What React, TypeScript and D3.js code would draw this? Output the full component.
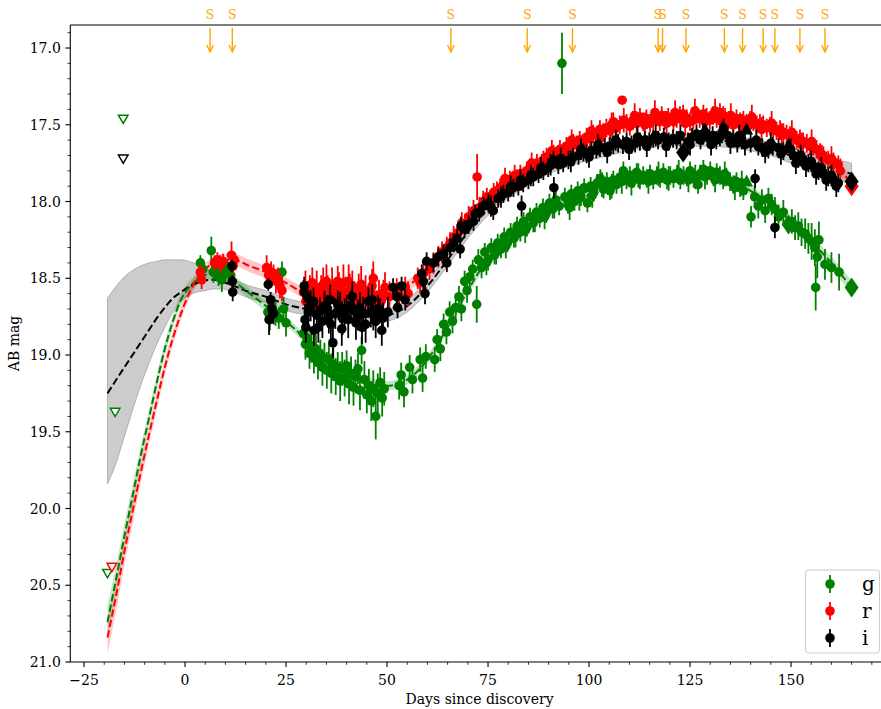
import React from "react";
import * as d3 from "d3";

// ---------- model curves (day, mag, uncertainty) ----------
const modelDays = [-19.2, -17, -15, -13, -11, -9, -7, -5, -3, -1, 1, 3, 5, 7, 9, 12, 16, 20, 25, 30, 35, 40, 45, 50, 55, 60, 65, 70, 75, 80, 85, 90, 95, 100, 105, 110, 115, 120, 125, 130, 135, 140, 145, 150, 155, 160, 165];
const gModelMag = [20.74, 20.45, 20.18, 19.92, 19.66, 19.42, 19.18, 18.96, 18.78, 18.64, 18.56, 18.51, 18.48, 18.47, 18.48, 18.52, 18.6, 18.68, 18.78, 18.9, 19.02, 19.11, 19.17, 19.2, 19.16, 19.03, 18.82, 18.58, 18.37, 18.22, 18.12, 18.04, 17.98, 17.93, 17.89, 17.86, 17.84, 17.83, 17.83, 17.83, 17.86, 17.93, 18.02, 18.13, 18.26, 18.4, 18.56];
const gModelSig = [0.1, 0.09, 0.08, 0.07, 0.06, 0.05, 0.05, 0.045, 0.04, 0.04, 0.04, 0.035, 0.035, 0.035, 0.035, 0.035, 0.035, 0.035, 0.03, 0.03, 0.03, 0.03, 0.03, 0.03, 0.03, 0.03, 0.03, 0.03, 0.03, 0.03, 0.03, 0.03, 0.03, 0.03, 0.03, 0.03, 0.03, 0.03, 0.03, 0.03, 0.03, 0.03, 0.035, 0.035, 0.04, 0.04, 0.045];
const rModelMag = [20.84, 20.56, 20.28, 20.02, 19.77, 19.53, 19.3, 19.08, 18.89, 18.73, 18.6, 18.5, 18.44, 18.4, 18.38, 18.38, 18.42, 18.46, 18.53, 18.6, 18.62, 18.62, 18.62, 18.61, 18.55, 18.45, 18.3, 18.13, 17.98, 17.87, 17.78, 17.7, 17.63, 17.57, 17.52, 17.49, 17.46, 17.45, 17.45, 17.45, 17.47, 17.49, 17.52, 17.57, 17.64, 17.74, 17.88];
const rModelSig = [0.11, 0.1, 0.09, 0.08, 0.07, 0.06, 0.055, 0.05, 0.045, 0.04, 0.04, 0.04, 0.04, 0.04, 0.04, 0.04, 0.04, 0.04, 0.035, 0.035, 0.035, 0.035, 0.035, 0.035, 0.035, 0.035, 0.03, 0.03, 0.03, 0.03, 0.03, 0.03, 0.03, 0.03, 0.03, 0.03, 0.03, 0.03, 0.03, 0.03, 0.03, 0.03, 0.035, 0.035, 0.04, 0.04, 0.045];
const iModelMag = [19.25, 19.16, 19.08, 19.0, 18.92, 18.84, 18.76, 18.69, 18.63, 18.59, 18.555, 18.53, 18.515, 18.51, 18.52, 18.55, 18.59, 18.62, 18.67, 18.7, 18.72, 18.74, 18.75, 18.74, 18.68, 18.55, 18.38, 18.2, 18.05, 17.94, 17.85, 17.78, 17.73, 17.69, 17.66, 17.63, 17.61, 17.6, 17.6, 17.6, 17.61, 17.63, 17.66, 17.7, 17.74, 17.78, 17.82];
const iModelLo = [18.63, 18.55, 18.49, 18.45, 18.42, 18.4, 18.39, 18.38, 18.38, 18.38, 18.39, 18.41, 18.44, 18.46, 18.48, 18.51, 18.55, 18.58, 18.63, 18.66, 18.68, 18.7, 18.71, 18.7, 18.64, 18.51, 18.34, 18.16, 18.01, 17.9, 17.81, 17.74, 17.69, 17.65, 17.62, 17.59, 17.57, 17.56, 17.56, 17.56, 17.57, 17.59, 17.62, 17.65, 17.69, 17.72, 17.75];
const iModelHi = [19.84, 19.7, 19.53, 19.36, 19.2, 19.06, 18.93, 18.82, 18.72, 18.65, 18.61, 18.59, 18.58, 18.57, 18.57, 18.59, 18.63, 18.66, 18.71, 18.74, 18.76, 18.78, 18.79, 18.78, 18.72, 18.59, 18.42, 18.24, 18.09, 17.98, 17.89, 17.82, 17.77, 17.73, 17.7, 17.67, 17.65, 17.64, 17.64, 17.64, 17.65, 17.67, 17.7, 17.75, 17.79, 17.84, 17.89];

// ---------- photometry: [day, mag, err] ----------
const gData: number[][] = [
  [3.8,18.40,0.05],[4.4,18.44,0.06],[6.5,18.32,0.09],[7.0,18.46,0.07],[7.6,18.43,0.05],[8.3,18.49,0.06],[9.1,18.51,0.08],[9.8,18.46,0.06],[10.6,18.44,0.05],[11.3,18.48,0.06],
  [20.5,18.72,0.05],[21.0,18.77,0.07],[21.6,18.70,0.06],[22.4,18.73,0.08],[23.2,18.76,0.07],[24.0,18.46,0.07],[24.4,18.70,0.08],[25.0,18.79,0.09],
  [29.3,18.86,0.08],[29.8,18.93,0.1],[30.3,18.89,0.09],[30.8,18.99,0.1],[31.3,18.94,0.11],[31.9,19.02,0.1],[32.4,18.96,0.09],[32.9,19.05,0.11],[33.5,19.00,0.1],[34.0,19.08,0.12],[34.5,19.02,0.1],[35.1,19.10,0.12],[35.6,19.03,0.1],[36.2,19.12,0.13],[36.7,19.06,0.11],[37.3,19.14,0.12],[37.8,19.08,0.1],[38.4,19.17,0.13],[38.9,19.09,0.11],[39.5,19.15,0.12],[40.0,19.07,0.1],[40.6,19.19,0.13],[41.1,19.12,0.11],[41.7,19.21,0.12],[42.2,19.14,0.11],[42.8,19.09,0.1],[43.3,19.23,0.13],[43.7,18.97,0.09],[44.4,19.16,0.12],[45.0,19.26,0.12],[45.5,19.20,0.11],[46.1,19.30,0.13],[46.6,19.22,0.12],[47.2,19.40,0.15],[47.7,19.25,0.13],[48.3,19.18,0.1],[48.8,19.28,0.12],[49.3,19.22,0.11],
  [53.0,19.20,0.09],[53.5,19.13,0.08],[54.2,19.24,0.1],[55.6,19.08,0.08],[56.3,19.16,0.09],[58.2,19.03,0.08],[58.8,19.15,0.09],[59.6,19.01,0.08],[61.8,19.03,0.08],[62.4,18.90,0.07],[63.2,18.96,0.08],[64.0,18.80,0.07],[64.7,18.85,0.08],[65.5,18.72,0.07],[66.2,18.78,0.08],[67.0,18.69,0.07],[67.8,18.62,0.07],[68.4,18.70,0.08],[69.2,18.52,0.07],[69.8,18.58,0.08],[70.5,18.49,0.07],[71.2,18.44,0.06],[72.2,18.67,0.12],[72.6,18.38,0.07],[73.4,18.43,0.07],[74.2,18.33,0.06],[74.6,18.40,0.08],[75.0,18.38,0.07],[75.8,18.30,0.06],[76.6,18.35,0.06],[77.0,18.33,0.08],[77.4,18.27,0.06],[78.2,18.31,0.06],[79.0,18.23,0.06],[79.4,18.29,0.08],[79.8,18.27,0.06],[80.6,18.20,0.06],[81.4,18.24,0.06],[81.8,18.22,0.08],[82.2,18.16,0.06],[83.0,18.20,0.06],[83.8,18.13,0.06],[84.2,18.19,0.08],[84.6,18.17,0.06],[85.4,18.10,0.06],[86.2,18.14,0.06],[86.6,18.12,0.08],[87.0,18.07,0.06],[87.8,18.11,0.06],[88.6,18.04,0.06],[89.0,18.10,0.08],[89.4,18.08,0.06],[90.2,18.01,0.06],[91.0,18.05,0.06],[91.4,18.03,0.08],[91.8,17.99,0.06],[92.6,18.03,0.06],[93.3,17.10,0.20],[94.0,17.97,0.06],[94.8,18.02,0.06],[95.2,18.04,0.08],[95.6,17.95,0.06],[96.4,18.00,0.06],[97.2,17.93,0.06],[97.6,17.98,0.08],[98.0,17.97,0.06],[98.8,17.91,0.06],[99.6,18.01,0.06],[100.4,17.90,0.06],[100.8,17.96,0.08],[101.2,17.94,0.06],[102.0,17.88,0.06],[102.8,17.85,0.06],[103.2,17.89,0.08],[103.6,17.92,0.06],[104.4,17.87,0.06],[105.2,17.93,0.06],[105.6,17.90,0.08],[106.0,17.86,0.06],[106.8,17.89,0.06],[107.7,17.84,0.06],[108.1,17.87,0.08],[108.5,17.80,0.06],[109.3,17.86,0.06],[110.1,17.83,0.06],[110.5,17.88,0.08],[111.0,17.85,0.06],[111.8,17.81,0.06],[112.2,17.83,0.08],[112.6,17.86,0.06],[113.4,17.83,0.06],[114.3,17.85,0.06],[114.7,17.87,0.08],[115.1,17.82,0.06],[115.9,17.86,0.06],[116.8,17.83,0.06],[117.2,17.82,0.08],[117.6,17.85,0.06],[118.4,17.81,0.06],[119.3,17.86,0.06],[119.7,17.85,0.08],[120.1,17.83,0.06],[120.9,17.85,0.06],[121.8,17.82,0.06],[122.2,17.81,0.08],[122.6,17.86,0.06],[123.4,17.83,0.06],[124.2,17.84,0.06],[124.6,17.86,0.08],[125.0,17.80,0.06],[125.9,17.85,0.06],[126.3,17.84,0.08],[127.0,17.89,0.06],[127.5,17.82,0.06],[128.3,17.79,0.06],[128.7,17.84,0.08],[129.2,17.83,0.06],[130.0,17.80,0.06],[130.8,17.84,0.06],[131.2,17.86,0.08],[131.6,17.81,0.06],[132.4,17.83,0.06],[133.2,17.86,0.06],[133.6,17.82,0.08],[134.0,17.84,0.06],[134.9,17.87,0.06],[135.7,17.89,0.06],[136.1,17.91,0.08],[136.5,17.87,0.06],[137.4,17.91,0.06],[137.8,17.88,0.08],[138.2,17.93,0.06],[140.1,18.10,0.07],[141.0,17.97,0.07],[141.9,18.03,0.08],[142.8,17.99,0.07],[143.6,18.06,0.08],[144.4,17.98,0.07],[145.2,18.02,0.07],[146.0,18.05,0.08],[146.9,18.10,0.08],[148.1,18.07,0.08],[150.2,18.13,0.08],[151.0,18.17,0.08],[151.8,18.16,0.09],[152.6,18.20,0.09],[153.5,18.21,0.1],[154.3,18.24,0.1],[155.1,18.26,0.12],[155.9,18.30,0.12],[156.1,18.56,0.15],[156.5,18.36,0.14],[156.9,18.25,0.12],[158.4,18.41,0.1],[160.0,18.43,0.1],[161.9,18.46,0.12]
];
const rData: number[][] = [
  [3.8,18.46,0.05],[4.1,18.51,0.06],[7.3,18.40,0.05],[8.0,18.38,0.05],[8.7,18.41,0.06],[9.4,18.39,0.05],[11.5,18.35,0.09],[11.9,18.42,0.05],[12.2,18.38,0.05],
  [20.2,18.43,0.08],[20.7,18.48,0.06],[21.3,18.46,0.07],[21.9,18.47,0.06],[22.5,18.52,0.08],[23.0,18.50,0.07],[23.5,18.55,0.08],[24.0,18.58,0.07],
  [29.3,18.59,0.08],[29.8,18.55,0.1],[29.9,18.65,0.1],[30.4,18.62,0.08],[30.9,18.57,0.09],[31.5,18.53,0.1],[32.0,18.60,0.09],[32.3,18.66,0.1],[32.6,18.56,0.11],[33.1,18.63,0.09],[33.7,18.58,0.1],[34.2,18.54,0.11],[34.8,18.61,0.1],[35.0,18.52,0.11],[35.3,18.57,0.09],[35.9,18.63,0.1],[36.4,18.55,0.12],[37.0,18.60,0.1],[37.5,18.65,0.09],[37.8,18.52,0.1],[38.1,18.57,0.11],[38.6,18.62,0.1],[39.2,18.53,0.12],[39.7,18.59,0.1],[40.3,18.64,0.09],[40.5,18.52,0.11],[40.8,18.58,0.11],[41.4,18.55,0.1],[41.9,18.61,0.09],[42.5,18.66,0.1],[43.0,18.58,0.11],[43.3,18.64,0.1],[43.6,18.54,0.12],[44.1,18.62,0.1],[44.7,18.58,0.1],[45.2,18.65,0.09],[45.8,18.60,0.1],[46.3,18.55,0.11],[46.6,18.50,0.11],[46.9,18.63,0.1],[47.4,18.67,0.09],[48.0,18.61,0.1],[48.5,18.65,0.08],[49.1,18.60,0.09],[49.5,18.56,0.1],[50.6,18.62,0.1],
  [52.4,18.58,0.08],[53.0,18.62,0.08],[54.5,18.56,0.07],[55.2,18.60,0.08],[57.6,18.50,0.07],[58.2,18.53,0.07],[59.0,18.47,0.07],[60.5,18.44,0.07],[61.5,18.40,0.07],[62.7,18.36,0.07],[63.6,18.33,0.07],[64.8,18.30,0.07],[65.6,18.27,0.07],[66.5,18.23,0.07],[67.7,18.20,0.07],[68.5,18.14,0.07],[69.3,18.15,0.07],[70.2,18.10,0.07],[71.4,18.06,0.07],[72.3,17.84,0.15],[72.9,18.04,0.07],[73.8,18.00,0.07],[74.7,17.97,0.06],[75.2,18.01,0.07],[75.6,17.99,0.06],[76.4,17.94,0.06],[77.2,17.93,0.06],[77.6,17.96,0.07],[78.0,17.91,0.06],[78.8,17.89,0.06],[79.2,17.85,0.07],[79.6,17.88,0.06],[80.4,17.86,0.06],[81.2,17.88,0.06],[81.6,17.83,0.07],[82.1,17.85,0.06],[83.0,17.82,0.06],[83.4,17.86,0.07],[83.8,17.84,0.06],[84.6,17.80,0.06],[85.4,17.78,0.06],[85.8,17.75,0.07],[86.2,17.79,0.06],[87.1,17.75,0.06],[87.9,17.77,0.06],[88.3,17.76,0.07],[88.7,17.73,0.06],[89.5,17.71,0.06],[90.4,17.72,0.06],[90.8,17.67,0.07],[91.2,17.69,0.06],[92.0,17.70,0.06],[92.8,17.66,0.06],[93.2,17.70,0.07],[93.6,17.68,0.06],[94.4,17.64,0.06],[95.3,17.65,0.06],[95.7,17.60,0.07],[96.1,17.62,0.06],[96.9,17.63,0.06],[97.7,17.60,0.06],[98.2,17.64,0.07],[98.6,17.62,0.06],[99.4,17.58,0.06],[100.2,17.59,0.06],[100.6,17.54,0.07],[101.0,17.56,0.06],[101.9,17.57,0.06],[102.7,17.53,0.06],[103.1,17.58,0.07],[103.5,17.55,0.06],[104.3,17.52,0.06],[105.2,17.54,0.06],[105.6,17.50,0.08],[106.0,17.48,0.06],[106.8,17.52,0.06],[107.6,17.50,0.06],[108.2,17.34,0.01],[108.6,17.47,0.08],[109.3,17.49,0.06],[110.1,17.51,0.06],[110.9,17.47,0.06],[111.3,17.44,0.08],[111.8,17.49,0.06],[112.6,17.45,0.06],[113.4,17.48,0.06],[113.8,17.50,0.08],[114.2,17.46,0.06],[115.1,17.49,0.06],[115.9,17.47,0.06],[116.3,17.42,0.08],[116.7,17.45,0.06],[117.5,17.48,0.06],[118.0,17.44,0.06],[118.8,17.47,0.06],[119.2,17.49,0.08],[119.6,17.45,0.06],[120.9,17.48,0.06],[121.3,17.42,0.08],[121.7,17.46,0.06],[122.5,17.44,0.06],[123.3,17.43,0.06],[123.8,17.49,0.08],[124.2,17.46,0.06],[125.0,17.48,0.06],[125.8,17.47,0.06],[126.2,17.41,0.08],[126.6,17.44,0.06],[127.4,17.46,0.06],[128.3,17.43,0.06],[128.7,17.48,0.08],[129.1,17.45,0.06],[129.9,17.47,0.06],[130.7,17.44,0.06],[131.2,17.41,0.08],[131.6,17.46,0.06],[132.4,17.42,0.06],[132.8,17.48,0.08],[133.2,17.44,0.06],[133.7,17.45,0.06],[134.5,17.47,0.06],[135.1,17.44,0.08],[135.7,17.50,0.06],[136.5,17.46,0.06],[137.4,17.48,0.06],[137.8,17.51,0.08],[138.2,17.47,0.06],[139.0,17.49,0.06],[139.9,17.47,0.06],[140.3,17.45,0.08],[140.7,17.48,0.06],[141.5,17.50,0.06],[142.3,17.49,0.06],[142.7,17.53,0.08],[143.1,17.50,0.06],[144.0,17.52,0.06],[144.8,17.51,0.06],[145.2,17.49,0.08],[145.6,17.52,0.06],[146.4,17.54,0.06],[147.3,17.53,0.06],[147.7,17.57,0.08],[148.1,17.55,0.06],[148.9,17.56,0.06],[149.7,17.57,0.06],[150.2,17.55,0.08],[150.6,17.58,0.06],[151.4,17.60,0.06],[152.2,17.59,0.06],[152.6,17.63,0.08],[153.0,17.61,0.06],[153.9,17.62,0.06],[154.7,17.64,0.06],[155.1,17.61,0.08],[155.5,17.64,0.06],[156.3,17.66,0.06],[157.2,17.68,0.06],[157.6,17.71,0.08],[158.0,17.70,0.06],[159.2,17.73,0.06],[160.0,17.72,0.08],[160.5,17.74,0.06],[161.7,17.76,0.06],[162.2,17.80,0.08]
];
const iData: number[][] = [
  [11.6,18.42,0.04],[11.7,18.52,0.04],[11.8,18.59,0.06],
  [20.6,18.54,0.04],[20.8,18.77,0.1],[21.2,18.64,0.05],[21.5,18.70,0.06],[21.9,18.73,0.07],
  [29.5,18.55,0.06],[29.6,18.59,0.07],[29.7,18.77,0.1],[29.9,18.82,0.1],[30.2,18.62,0.1],[30.5,18.72,0.09],[31.1,18.68,0.1],[31.8,18.65,0.09],[31.9,18.84,0.1],[32.6,18.74,0.1],[33.0,18.82,0.1],[33.4,18.71,0.09],[34.0,18.78,0.11],[34.5,18.68,0.1],[35.1,18.70,0.09],[35.6,18.75,0.11],[35.9,18.64,0.1],[36.1,18.80,0.12],[36.6,18.92,0.1],[37.2,18.73,0.1],[37.8,18.67,0.09],[38.4,18.69,0.1],[38.8,18.83,0.11],[39.0,18.76,0.11],[39.5,18.73,0.1],[40.0,18.70,0.09],[40.4,18.77,0.12],[41.0,18.68,0.1],[41.4,18.62,0.1],[41.7,18.71,0.09],[42.3,18.79,0.11],[42.8,18.74,0.1],[43.3,18.69,0.1],[43.8,18.82,0.11],[44.1,18.73,0.11],[44.7,18.80,0.12],[45.4,18.65,0.09],[46.0,18.72,0.1],[46.3,18.64,0.1],[46.6,18.74,0.1],[47.2,18.78,0.11],[47.8,18.70,0.09],[48.3,18.71,0.08],[48.7,18.84,0.1],[49.0,18.76,0.1],[50.2,18.72,0.1],
  [51.5,18.56,0.06],[52.4,18.62,0.07],[52.6,18.69,0.07],[53.6,18.55,0.06],[54.5,18.64,0.07],[58.6,18.47,0.06],[59.0,18.52,0.06],[59.4,18.60,0.07],[59.8,18.39,0.06],[61.5,18.40,0.06],[62.7,18.36,0.06],[64.0,18.34,0.06],[64.8,18.40,0.06],[65.6,18.30,0.06],[66.5,18.27,0.06],[67.3,18.24,0.06],[68.1,18.31,0.06],[68.3,18.16,0.06],[69.2,18.18,0.06],[70.2,18.15,0.06],[71.4,18.13,0.06],[71.8,18.08,0.06],[72.8,18.07,0.06],[73.9,18.03,0.06],[75.1,18.01,0.06],[75.7,18.03,0.07],[76.3,18.06,0.06],[77.5,17.98,0.06],[78.2,17.97,0.07],[78.8,17.95,0.06],[80.0,17.94,0.06],[80.6,17.90,0.07],[81.3,17.91,0.06],[82.5,17.90,0.06],[83.0,17.86,0.07],[83.3,18.03,0.07],[83.7,17.88,0.06],[85.0,17.86,0.06],[85.6,17.83,0.07],[86.2,17.84,0.06],[87.5,17.82,0.06],[88.1,17.78,0.07],[88.7,17.80,0.06],[89.9,17.78,0.06],[90.5,17.76,0.07],[91.2,17.73,0.06],[91.3,17.91,0.07],[92.4,17.76,0.06],[93.0,17.72,0.07],[93.6,17.75,0.06],[94.9,17.73,0.06],[95.5,17.74,0.07],[96.1,17.71,0.06],[97.4,17.70,0.06],[98.0,17.66,0.07],[98.6,17.68,0.06],[99.4,17.69,0.06],[100.0,17.71,0.07],[100.6,17.67,0.06],[101.8,17.66,0.06],[102.2,17.63,0.07],[102.7,17.65,0.06],[103.9,17.65,0.06],[104.5,17.68,0.07],[105.1,17.64,0.06],[106.0,17.63,0.06],[106.6,17.60,0.07],[107.2,17.62,0.06],[108.4,17.63,0.06],[109.3,17.61,0.06],[109.9,17.66,0.07],[110.5,17.63,0.06],[111.4,17.62,0.06],[112.0,17.58,0.07],[112.6,17.61,0.06],[113.8,17.60,0.06],[114.3,17.64,0.07],[114.9,17.61,0.06],[115.9,17.59,0.06],[116.5,17.57,0.07],[117.1,17.60,0.06],[118.5,17.58,0.06],[119.1,17.64,0.07],[119.7,17.61,0.06],[120.8,17.59,0.06],[121.7,17.60,0.06],[122.6,17.57,0.07],[124.5,17.61,0.06],[125.0,17.63,0.07],[125.5,17.58,0.06],[126.6,17.56,0.06],[127.6,17.60,0.06],[128.2,17.56,0.07],[129.8,17.59,0.06],[130.2,17.63,0.07],[130.6,17.57,0.06],[131.5,17.60,0.06],[132.4,17.58,0.06],[132.9,17.55,0.07],[133.3,17.52,0.06],[134.3,17.57,0.06],[135.0,17.62,0.07],[135.7,17.59,0.06],[136.7,17.62,0.06],[137.2,17.57,0.07],[137.8,17.60,0.06],[138.6,17.63,0.07],[140.0,17.62,0.06],[141.1,17.85,0.06],[141.4,17.60,0.07],[141.9,17.64,0.06],[142.9,17.65,0.06],[143.6,17.68,0.07],[144.4,17.66,0.06],[145.0,17.62,0.07],[145.5,17.64,0.06],[146.0,18.17,0.07],[146.9,17.65,0.06],[147.5,17.69,0.07],[148.1,17.67,0.06],[149.9,17.66,0.07],[150.6,17.70,0.06],[151.2,17.75,0.07],[151.8,17.72,0.06],[152.4,17.70,0.07],[153.0,17.73,0.06],[153.7,17.77,0.07],[154.3,17.75,0.06],[155.0,17.74,0.07],[155.5,17.77,0.06],[156.2,17.82,0.07],[156.8,17.80,0.06],[157.5,17.78,0.07],[158.0,17.82,0.06],[158.7,17.86,0.07],[159.2,17.84,0.06],[160.0,17.83,0.07],[160.5,17.86,0.06],[161.2,17.90,0.07],[161.7,17.88,0.06]
];
// other instruments: [day, mag]
const gTriangles = [[139.0, 17.87]];
const iTriangles = [[128.7, 17.53], [139.0, 17.53], [149.4, 17.63]];
const gDiamonds = [[149.4, 18.15], [165.0, 18.56]];
const rDiamonds = [[165.0, 17.90]];
const iDiamonds = [[123.3, 17.68], [165.0, 17.87]];
// upper limits: [day, mag]
const gLimits = [[-15.3, 17.46], [-17.3, 19.37], [-19.2, 20.42]];
const rLimits = [[-18.1, 20.38]];
const iLimits = [[-15.3, 17.72]];
// spectra epochs
const spectraDays = [6.2, 11.7, 65.8, 84.7, 95.9, 117.1, 118.2, 124.0, 133.5, 138.0, 143.1, 146.0, 152.2, 158.4];

const xMajor = [-25, 0, 25, 50, 75, 100, 125, 150];
const yMajor = [17.0, 17.5, 18.0, 18.5, 19.0, 19.5, 20.0, 20.5, 21.0];
const bands = ["g", "r", "i"];
const bandColors = ["green", "red", "black"];

const W = 881, H = 709;
const FONT = "DejaVu Serif";

export default function App() {
  const x = d3.scaleLinear().domain([-28.4, 174.2]).range([70.3, 888.8]);
  const y = d3.scaleLinear().domain([16.85, 21.0]).range([25, 662]);
  const [L, R] = x.range();
  const [T, B] = y.range();

  const xMinor = d3.range(-25, 175, 5).filter((v) => v % 25 !== 0);
  const yMinor = d3.range(169, 211, 1).map((v) => v / 10).filter((v) => Math.round(v * 10) % 5 !== 0);

  const line = (mags: number[]) =>
    d3.line<number>().x((_, i) => x(modelDays[i])).y((m) => y(m)).curve(d3.curveMonotoneX)(mags) || "";
  const area = (lo: number[], hi: number[]) =>
    d3.area<number>().x((_, i) => x(modelDays[i])).y0((_, i) => y(hi[i])).y1((_, i) => y(lo[i])).curve(d3.curveMonotoneX)(lo) || "";
  const symArea = (mags: number[], sig: number[]) =>
    area(mags.map((m, i) => m - sig[i]), mags.map((m, i) => m + sig[i]));

  const series = [gData, rData, iData];
  const tri = [gTriangles, [], iTriangles];
  const dia = [gDiamonds, rDiamonds, iDiamonds];
  const lims = [gLimits, rLimits, iLimits];

  const fmt = d3.format(".1f");
  const xfmt = (v: number) => (v < 0 ? "\u2212" + Math.abs(v) : String(v));

  return (
    <svg width={W} height={H} style={{ position: "absolute", left: 0, top: 0, background: "white" }} fontFamily={FONT}>
      <defs>
        <clipPath id="plot">
          <rect x={L} y={T} width={R - L} height={B - T} />
        </clipPath>
      </defs>
      <rect x={0} y={0} width={W} height={H} fill="white" />
      <g clipPath="url(#plot)">
        {/* model bands */}
        <path d={area(iModelLo, iModelHi)} fill="gray" fillOpacity={0.4} stroke="gray" strokeOpacity={0.5} strokeWidth={1} />
        <path d={symArea(gModelMag, gModelSig)} fill="green" fillOpacity={0.22} stroke="none" />
        <path d={symArea(rModelMag, rModelSig)} fill="red" fillOpacity={0.22} stroke="none" />
        <path d={line(iModelMag)} fill="none" stroke="black" strokeWidth={2} strokeDasharray="7.4,3.2" />
        <path d={line(gModelMag)} fill="none" stroke="green" strokeWidth={2} strokeDasharray="7.4,3.2" />
        <path d={line(rModelMag)} fill="none" stroke="red" strokeWidth={2} strokeDasharray="7.4,3.2" />

        {/* upper limits */}
        {lims.map((arr, bi) =>
          arr.map((p, k) => {
            const cx = x(p[0]), cy = y(p[1]);
            return (
              <path key={`l${bi}-${k}`} d={`M${cx - 4.8},${cy - 3.5}L${cx + 4.8},${cy - 3.5}L${cx},${cy + 4.8}Z`}
                fill="white" stroke={bandColors[bi]} strokeWidth={1.5} />
            );
          })
        )}

        {/* data */}
        {series.map((data, bi) => (
          <g key={`s${bi}`}>
            {data.map((p, k) => (
              <line key={`e${k}`} x1={x(p[0])} x2={x(p[0])} y1={y(p[1] - p[2])} y2={y(p[1] + p[2])}
                stroke={bandColors[bi]} strokeWidth={1.8} />
            ))}
            {data.map((p, k) => (
              <circle key={`c${k}`} cx={x(p[0])} cy={y(p[1])} r={4.8} fill={bandColors[bi]} />
            ))}
            {tri[bi].map((p, k) => {
              const cx = x(p[0]), cy = y(p[1]);
              return <path key={`t${k}`} d={`M${cx},${cy - 7}L${cx + 6.5},${cy + 5}L${cx - 6.5},${cy + 5}Z`} fill={bandColors[bi]} />;
            })}
            {dia[bi].map((p, k) => {
              const cx = x(p[0]), cy = y(p[1]);
              return <path key={`d${k}`} d={`M${cx},${cy - 10}L${cx + 7},${cy}L${cx},${cy + 10}L${cx - 7},${cy}Z`} fill={bandColors[bi]} />;
            })}
          </g>
        ))}
      </g>

      {/* spectra arrows */}
      {spectraDays.map((d, k) => {
        const cx = x(d);
        return (
          <g key={`sp${k}`} stroke="orange" strokeWidth={1.4} fill="none">
            <line x1={cx} x2={cx} y1={28} y2={51.5} />
            <path d={`M${cx - 3.3},${45}L${cx},${51.8}L${cx + 3.3},${45}`} />
            <text x={cx} y={18.5} textAnchor="middle" fontSize={12.5} fill="orange" stroke="none">S</text>
          </g>
        );
      })}

      {/* spines */}
      <g stroke="black" strokeWidth={1.1}>
        <line x1={L} x2={L} y1={T} y2={B} />
        <line x1={L} x2={R} y1={B} y2={B} />
        <line x1={L} x2={R} y1={T} y2={T} />
      </g>

      {/* x ticks */}
      {xMajor.map((v) => (
        <g key={`xt${v}`}>
          <line x1={x(v)} x2={x(v)} y1={B} y2={B + 4.9} stroke="black" strokeWidth={1.1} />
          <text x={x(v)} y={685} textAnchor="middle" fontSize={14}>{xfmt(v)}</text>
        </g>
      ))}
      {xMinor.map((v) => (
        <line key={`xm${v}`} x1={x(v)} x2={x(v)} y1={B} y2={B + 2.8} stroke="black" strokeWidth={0.8} />
      ))}
      {/* y ticks */}
      {yMajor.map((v) => (
        <g key={`yt${v}`}>
          <line x1={L - 4.9} x2={L} y1={y(v)} y2={y(v)} stroke="black" strokeWidth={1.1} />
          <text x={L - 9.5} y={y(v)} dy="0.36em" textAnchor="end" fontSize={14}>{fmt(v)}</text>
        </g>
      ))}
      {yMinor.map((v) => (
        <line key={`ym${v}`} x1={L - 2.8} x2={L} y1={y(v)} y2={y(v)} stroke="black" strokeWidth={0.8} />
      ))}

      {/* axis labels */}
      <text x={(L + R) / 2} y={704} textAnchor="middle" fontSize={14}>Days since discovery</text>
      <text transform={`translate(19,${(T + B) / 2}) rotate(-90)`} textAnchor="middle" fontSize={14}>AB mag</text>

      {/* legend */}
      <g>
        <rect x={805.5} y={570} width={74} height={83} rx={3} fill="white" fillOpacity={0.8} stroke="#cccccc" strokeWidth={1} />
        {bands.map((b, k) => {
          const cy = 584 + k * 27;
          return (
            <g key={`lg${b}`}>
              <line x1={830} x2={830} y1={cy - 9} y2={cy + 9} stroke={bandColors[k]} strokeWidth={1.8} />
              <circle cx={830} cy={cy} r={4.8} fill={bandColors[k]} />
              <text x={862} y={cy + 7} fontSize={20}>{b}</text>
            </g>
          );
        })}
      </g>
    </svg>
  );
}
